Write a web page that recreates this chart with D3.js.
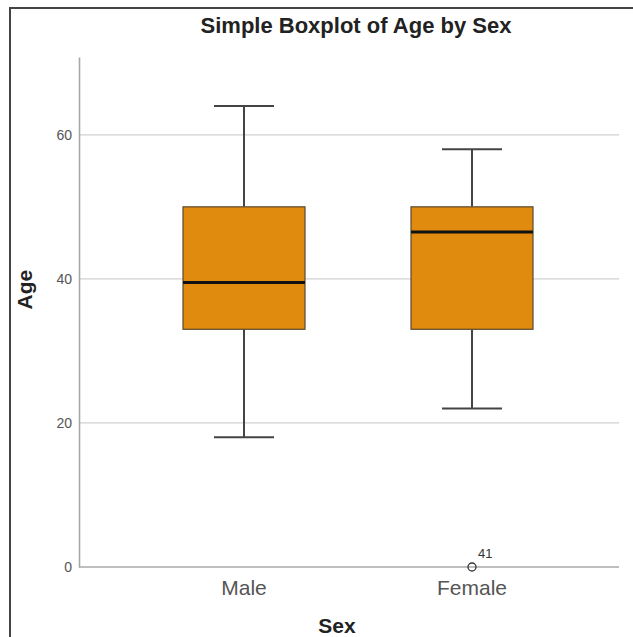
<!DOCTYPE html>
<html>
<head>
<meta charset="utf-8">
<script src="https://cdn.jsdelivr.net/npm/d3@7"></script>
<style>
  body { margin: 0; background: #fff; }
  text { font-family: "Liberation Sans", Arial, sans-serif; }
</style>
</head>
<body>
<div class="canvas"></div>
<script>
// data
const groups = ['Male', 'Female'];
const mins = [18, 22];
const q1s = [33, 33];
const medians = [39.5, 46.5];
const q3s = [50, 50];
const maxs = [64, 58];
const outlierGroup = ['Female'];
const outlierValue = [0];
const outlierLabel = ['41'];
const yTicks = [0, 20, 40, 60];

const width = 633, height = 637;

const svg = d3.select('.canvas')
    .append('svg')
    .attr('width', width)
    .attr('height', height);

// plot area
const margin = { top: 57, right: 14, bottom: 70, left: 79 };
const plotRight = width - margin.right;
const plotBottom = height - margin.bottom;

// outer frame (left + top only visible)
svg.append('path')
    .attr('d', `M10,${height} L10,8 L${width},8`)
    .attr('fill', 'none')
    .attr('stroke', '#444')
    .attr('stroke-width', 2);

const y = d3.scaleLinear()
    .domain([0, 70.8])
    .range([plotBottom, margin.top]);

const x = d3.scaleBand()
    .domain(groups)
    .range([130, 586])
    .paddingInner(0.465)
    .paddingOuter(0.2325);

// gridlines
svg.append('g')
    .selectAll('line')
    .data(yTicks.filter(d => d > 0))
    .enter()
    .append('line')
    .attr('x1', margin.left)
    .attr('x2', plotRight)
    .attr('y1', d => y(d))
    .attr('y2', d => y(d))
    .attr('stroke', '#d0d0d0')
    .attr('stroke-width', 1.2);

// y axis
const yAxisGroup = svg.append('g')
    .attr('transform', `translate(${margin.left}, 0)`)
    .call(d3.axisLeft(y).tickValues(yTicks).tickSize(0).tickPadding(7));
yAxisGroup.select('.domain').attr('stroke', '#a8a8a8').attr('stroke-width', 1.6);
yAxisGroup.selectAll('text')
    .attr('font-size', 14)
    .attr('fill', '#555')
    .style('font-family', '"Liberation Sans", Arial, sans-serif');

// x axis
const xAxisGroup = svg.append('g')
    .attr('transform', `translate(0, ${plotBottom})`)
    .call(d3.axisBottom(x).tickSize(0).tickPadding(13));
xAxisGroup.select('.domain')
    .attr('d', `M${margin.left},0H${plotRight}`)
    .attr('stroke', '#a8a8a8')
    .attr('stroke-width', 1.6);
xAxisGroup.selectAll('text')
    .attr('font-size', 21)
    .attr('fill', '#555')
    .style('font-family', '"Liberation Sans", Arial, sans-serif');

// boxes
const boxes = svg.append('g')
    .selectAll('g')
    .data(groups)
    .enter()
    .append('g');

const cx = d => x(d) + x.bandwidth() / 2;
const capW = 60;

boxes.append('line')
    .attr('x1', cx).attr('x2', cx)
    .attr('y1', (d, i) => y(maxs[i]))
    .attr('y2', (d, i) => y(q3s[i]))
    .attr('stroke', '#444').attr('stroke-width', 2);

boxes.append('line')
    .attr('x1', cx).attr('x2', cx)
    .attr('y1', (d, i) => y(q1s[i]))
    .attr('y2', (d, i) => y(mins[i]))
    .attr('stroke', '#444').attr('stroke-width', 2);

boxes.append('line')
    .attr('x1', d => cx(d) - capW / 2).attr('x2', d => cx(d) + capW / 2)
    .attr('y1', (d, i) => y(maxs[i])).attr('y2', (d, i) => y(maxs[i]))
    .attr('stroke', '#444').attr('stroke-width', 2);

boxes.append('line')
    .attr('x1', d => cx(d) - capW / 2).attr('x2', d => cx(d) + capW / 2)
    .attr('y1', (d, i) => y(mins[i])).attr('y2', (d, i) => y(mins[i]))
    .attr('stroke', '#444').attr('stroke-width', 2);

boxes.append('rect')
    .attr('x', d => x(d))
    .attr('width', x.bandwidth())
    .attr('y', (d, i) => y(q3s[i]))
    .attr('height', (d, i) => y(q1s[i]) - y(q3s[i]))
    .attr('fill', '#e08a0e')
    .attr('stroke', '#5a4a30')
    .attr('stroke-width', 1.2);

boxes.append('line')
    .attr('x1', d => x(d)).attr('x2', d => x(d) + x.bandwidth())
    .attr('y1', (d, i) => y(medians[i])).attr('y2', (d, i) => y(medians[i]))
    .attr('stroke', '#111').attr('stroke-width', 3);

// outliers
svg.append('g')
    .selectAll('circle')
    .data(outlierValue)
    .enter()
    .append('circle')
    .attr('cx', (d, i) => cx(outlierGroup[i]))
    .attr('cy', d => y(d))
    .attr('r', 4)
    .attr('fill', 'none')
    .attr('stroke', '#333')
    .attr('stroke-width', 1.3);

svg.append('g')
    .selectAll('text')
    .data(outlierValue)
    .enter()
    .append('text')
    .attr('x', (d, i) => cx(outlierGroup[i]) + 6)
    .attr('y', d => y(d) - 9)
    .attr('font-size', 13)
    .attr('fill', '#333')
    .text((d, i) => outlierLabel[i]);

// titles
svg.append('text')
    .attr('x', 356)
    .attr('y', 33)
    .attr('text-anchor', 'middle')
    .attr('font-size', 22)
    .attr('font-weight', 'bold')
    .attr('fill', '#222')
    .text('Simple Boxplot of Age by Sex');

svg.append('text')
    .attr('transform', `translate(32, ${y(38.5)}) rotate(-90)`)
    .attr('text-anchor', 'middle')
    .attr('font-size', 21)
    .attr('font-weight', 'bold')
    .attr('fill', '#222')
    .text('Age');

svg.append('text')
    .attr('x', 337)
    .attr('y', 633)
    .attr('text-anchor', 'middle')
    .attr('font-size', 21)
    .attr('font-weight', 'bold')
    .attr('fill', '#222')
    .text('Sex');
</script>
</body>
</html>
